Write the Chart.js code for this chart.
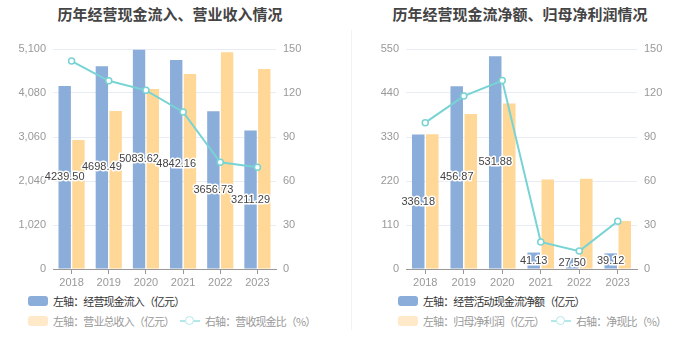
<!DOCTYPE html>
<html>
<head>
<meta charset="utf-8">
<script src="https://cdn.jsdelivr.net/npm/chart.js@4.4.1/dist/chart.umd.min.js"></script>
<style>
  html, body { margin: 0; padding: 0; background: #fff; }
  body { width: 700px; height: 360px; position: relative; overflow: hidden;
    font-family: 'Noto Sans CJK SC', 'Noto Sans', sans-serif; }
  .panel { position: absolute; top: 0; width: 350px; height: 360px; }
  .title { position: absolute; top: 3px; width: 340px; text-align: center;
    font-size: 15px; font-weight: bold; color: #444; }
  .box { position: absolute; top: 30px; width: 350px; height: 260px; }
  .sep { position: absolute; left: 351px; top: 30px; width: 1px; height: 300px; background: #f3f3f3; }
  .legend { position: absolute; font-size: 11px; letter-spacing: -0.9px; white-space: nowrap; }
  .legend .item { position: absolute; display: flex; align-items: center; }
  .legend .sw { width: 20px; height: 10px; border-radius: 3px; margin-right: 5px; }
  .legend .ln { width: 20px; height: 12px; margin-right: 5px; position: relative; }
  .legend .ln:before { content: ''; position: absolute; left: 0; right: 0; top: 5px; height: 2px; }
  .legend .ln:after { content: ''; position: absolute; left: 5px; top: 1px; width: 7px; height: 7px;
    border-radius: 50%; background: #fff; border: 1.5px solid; }
</style>
</head>
<body>
<div class="panel" id="p1" style="left:0">
  <div class="title">历年经营现金流入、营业收入情况</div>
  <div class="box"><canvas id="c1"></canvas></div>
  <div class="legend" id="l1"></div>
</div>
<div class="sep"></div>
<div class="panel" id="p2" style="left:350px">
  <div class="title">历年经营现金流净额、归母净利润情况</div>
  <div class="box"><canvas id="c2"></canvas></div>
  <div class="legend" id="l2"></div>
</div>
<script>
var years = ['2018', '2019', '2020', '2021', '2022', '2023'];

// left chart
var cashInflow = [4239.50, 4698.49, 5083.62, 4842.16, 3656.73, 3211.29];
var revenue = [2990, 3663, 4173, 4520, 5023, 4636];
var cashRevRatio = [141.8, 128.3, 121.8, 107.1, 72.8, 69.3];
var leftTicks1 = [0, 1020, 2040, 3060, 4080, 5100];

// right chart
var netOpCash = [336.18, 456.87, 531.88, 41.13, 27.50, 39.12];
var netProfit = [337, 387.5, 414, 224, 225.8, 120];
var netCashRatio = [99.8, 117.9, 128.5, 18.4, 12.2, 32.6];
var leftTicks2 = [0, 110, 220, 330, 440, 550];

var rightTicks = [0, 30, 60, 90, 120, 150];

var BLUE = '#8badd9';
var ORANGE = '#ffd797';
var TEAL = '#78d3d4';

var barLabels = {
  id: 'barLabels',
  afterDatasetsDraw: function (chart) {
    var ctx = chart.ctx;
    var meta = chart.getDatasetMeta(0);
    var values = chart.data.datasets[0].data;
    ctx.save();
    ctx.font = '11px "Liberation Sans", Arial, sans-serif';
    ctx.textAlign = 'center';
    ctx.textBaseline = 'middle';
    ctx.lineJoin = 'round';
    meta.data.forEach(function (bar, i) {
      var y = (bar.y + bar.base) / 2;
      var txt = values[i].toFixed(2);
      ctx.lineWidth = 3;
      ctx.strokeStyle = '#fff';
      ctx.strokeText(txt, bar.x, y);
      ctx.fillStyle = '#444';
      ctx.fillText(txt, bar.x, y);
    });
    ctx.restore();
  }
};

function fixedTicks(list) {
  return function (scale) {
    scale.ticks = list.map(function (v) { return { value: v }; });
  };
}

function makeChart(id, bars1, bars2, line, labels, lTicks, dims) {
  var ctx = document.getElementById(id).getContext('2d');
  return new Chart(ctx, {
    type: 'bar',
    data: {
      labels: years,
      datasets: [
        { label: labels[0], data: bars1, backgroundColor: BLUE, yAxisID: 'y', order: 2,
          categoryPercentage: dims.cat, barPercentage: dims.bar },
        { label: labels[1], data: bars2, backgroundColor: ORANGE, yAxisID: 'y', order: 2,
          categoryPercentage: dims.cat, barPercentage: dims.bar },
        { type: 'line', label: labels[2], data: line, yAxisID: 'y1', order: 1,
          borderColor: TEAL, borderWidth: 2, tension: 0,
          pointRadius: 3, pointBorderWidth: 1.5, pointBackgroundColor: '#fff', pointBorderColor: TEAL }
      ]
    },
    options: {
      animation: false, responsive: true, maintainAspectRatio: false,
      layout: { padding: { top: 19, left: 0, right: 0, bottom: 0 } },
      plugins: { legend: { display: false }, tooltip: { enabled: false } },
      scales: {
        x: {
          grid: { drawOnChartArea: false, offset: false, color: '#999', tickLength: 5 },
          border: { color: '#999' },
          ticks: { color: '#999', font: { size: 11 }, padding: 2 },
          afterFit: function (s) { s.height = 21; }
        },
        y: {
          position: 'left', min: 0, max: lTicks[lTicks.length - 1],
          afterBuildTicks: fixedTicks(lTicks),
          grid: { color: '#e8ecf4', drawTicks: false },
          border: { display: false },
          ticks: { color: '#999', font: { size: 11 }, padding: 7,
            callback: function (v) { return v.toLocaleString('en-US'); } },
          afterFit: function (s) { s.width = dims.left; }
        },
        y1: {
          position: 'right', min: 0, max: 150,
          afterBuildTicks: fixedTicks(rightTicks),
          grid: { drawOnChartArea: false, drawTicks: false },
          border: { display: false },
          ticks: { color: '#999', font: { size: 11 }, padding: 7 },
          afterFit: function (s) { s.width = dims.right; }
        }
      }
    },
    plugins: [barLabels]
  });
}

function buildLegend(elId, chart, pos) {
  var el = document.getElementById(elId);
  var ds = chart.data.datasets;
  var specs = [
    { i: 0, x: pos.x, y: 0, kind: 'sw', color: BLUE, text: '#333' },
    { i: 1, x: pos.x, y: 20, kind: 'sw', color: '#ffe9c8', text: '#999' },
    { i: 2, x: pos.lineX, y: 20, kind: 'ln', color: '#b4e8e8', text: '#999' }
  ];
  el.style.left = '0px';
  el.style.top = '293px';
  specs.forEach(function (s) {
    var item = document.createElement('div');
    item.className = 'item';
    item.style.left = s.x + 'px';
    item.style.top = s.y + 'px';
    var mark = document.createElement('div');
    mark.className = s.kind;
    if (s.kind === 'sw') mark.style.background = s.color;
    var txt = document.createElement('span');
    txt.textContent = ds[s.i].label;
    txt.style.color = s.text;
    item.appendChild(mark);
    item.appendChild(txt);
    el.appendChild(item);
    if (s.kind === 'ln') {
      var st = document.createElement('style');
      st.textContent = '#' + elId + ' .ln:before{background:' + s.color + '}#' + elId + ' .ln:after{border-color:' + s.color + '}';
      document.head.appendChild(st);
    }
  });
}

var chart1 = makeChart('c1', cashInflow, revenue, cashRevRatio,
  ['左轴：经营现金流入（亿元）', '左轴：营业总收入（亿元）', '右轴：营收现金比（%）'],
  leftTicks1, { left: 53, right: 74, cat: 0.74, bar: 0.9 });
var chart2 = makeChart('c2', netOpCash, netProfit, netCashRatio,
  ['左轴：经营活动现金流净额（亿元）', '左轴：归母净利润（亿元）', '右轴：净现比（%）'],
  leftTicks2, { left: 56, right: 63, cat: 0.73, bar: 0.89 });

buildLegend('l1', chart1, { x: 28, lineX: 180 });
buildLegend('l2', chart2, { x: 48, lineX: 201 });
</script>
</body>
</html>
